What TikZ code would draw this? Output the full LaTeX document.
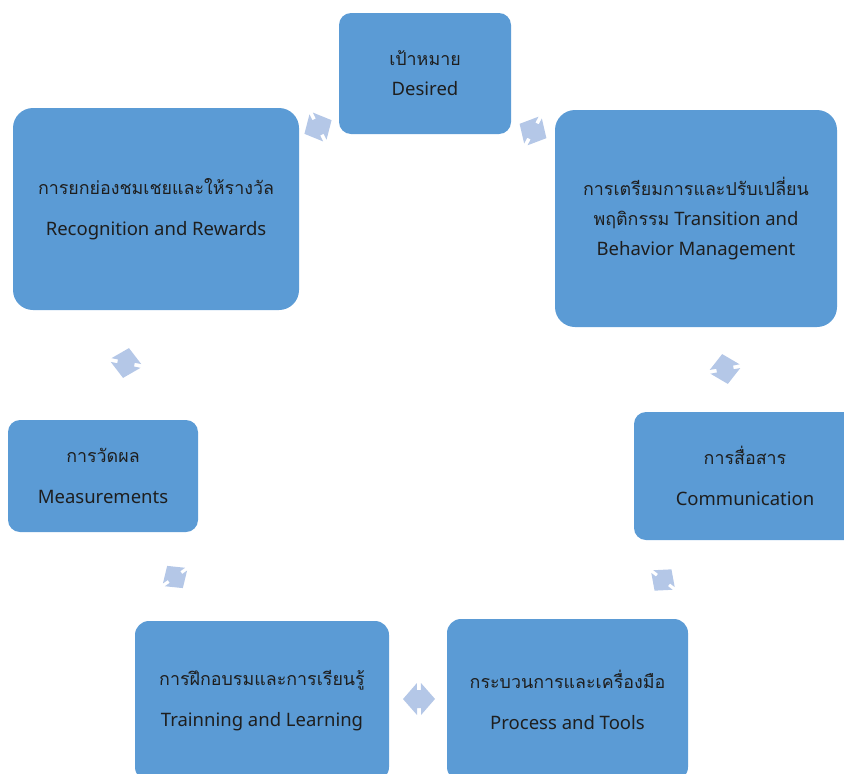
\documentclass[tikz,border=0pt]{standalone}
\usepackage{fontspec}
\setmainfont{Noto Sans}
\newfontfamily\thai[Script=Thai,Scale=0.965]{Loma}
\usetikzlibrary{calc}
\definecolor{boxblue}{HTML}{5B9BD5}
\definecolor{linkblue}{HTML}{B4C7E7}
\definecolor{ink}{HTML}{1E1E1E}
\tikzset{
  box/.style={fill=boxblue, text=ink, align=center, inner sep=0pt,
    font=\fontsize{18.5}{30}\selectfont},
  dblarrow/.pic={\fill[linkblue] (-16,0) -- (-2,-16) -- (-2,-9) -- (2,-9) -- (2,-16)
     -- (16,0) -- (2,16) -- (2,9) -- (-2,9) -- (-2,16) -- cycle;}
}
\newcommand\linkarrow[4]{\path let \p1=($(#2)-(#1)$), \n1={atan2(\y1,\x1)} in
  (#3) pic[rotate=\n1, scale=#4] {dblarrow};}
\begin{document}
\begin{tikzpicture}[x=1pt,y=-1pt]
\useasboundingbox (0,0) rectangle (844,774);
\clip (0,0) rectangle (844,774);
\node[box, minimum width=172, minimum height=121, rounded corners=12] (D) at (425,73.5)
  {{\thai เป้าหมาย}\\Desired};
\node[box, minimum width=282, minimum height=217, rounded corners=20] (T) at (696,218.5)
  {{\thai การเตรียมการและปรับเปลี่ยน}\\{\thai พฤติกรรม} Transition and\\Behavior Management};
\node[box, minimum width=222, minimum height=128, rounded corners=12] (C) at (745,476)
  {{\thai การสื่อสาร}\\[11pt]Communication};
\node[box, minimum width=241, minimum height=162, rounded corners=14] (P) at (567.5,700)
  {{\thai กระบวนการและเครื่องมือ}\\[11pt]Process and Tools};
\node[box, minimum width=254, minimum height=160, rounded corners=14] (Tr) at (262,701)
  {{\thai การฝึกอบรมและการเรียนรู้}\\[11pt]Trainning and Learning};
\node[box, minimum width=190, minimum height=112, rounded corners=12] (M) at (103,476)
  {{\thai การวัดผล}\\[11pt]Measurements};
\node[box, minimum width=286, minimum height=202, rounded corners=20] (R) at (156,209)
  {{\thai การยกย่องชมเชยและให้รางวัล}\\[11pt]Recognition and Rewards};
\linkarrow{R}{D}{318,127}{0.95}
\linkarrow{D}{T}{533,131}{0.95}
\linkarrow{T}{C}{725,369}{0.95}
\linkarrow{C}{P}{663,580}{0.85}
\linkarrow{P}{Tr}{419,699}{1}
\linkarrow{Tr}{M}{175,577}{0.85}
\linkarrow{M}{R}{126,363}{0.95}
\end{tikzpicture}
\end{document}
